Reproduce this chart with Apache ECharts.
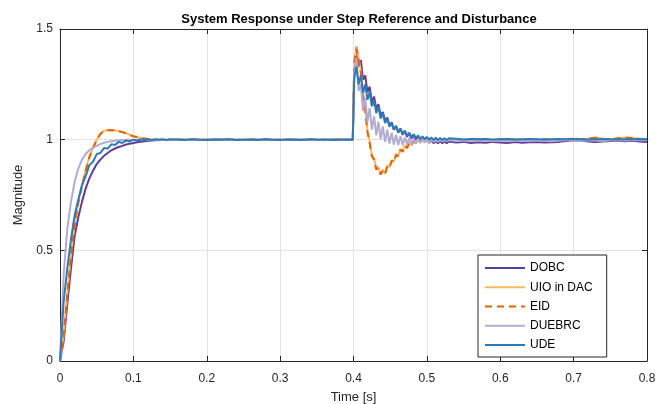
<!DOCTYPE html>
<html>
<head>
<meta charset="utf-8">
<script src="https://cdn.jsdelivr.net/npm/echarts@6/dist/echarts.min.js"></script>
<style>
html,body{margin:0;padding:0;background:#fff;}
#chart{width:662px;height:404px;}
</style>
</head>
<body>
<div id="chart"></div>
<script>
// ---- time samples [s] ----
var tA = [0,0.005,0.01,0.015,0.02,0.025,0.03,0.035,0.04,0.045,0.05,0.055,0.06,0.065,0.07,0.075,0.08,0.085,0.09,0.095,0.1,0.105,0.11,0.115,0.12,0.125,0.13,0.135,0.14,0.145,0.15];
var tB = [0.16,0.17,0.18,0.19,0.2,0.21,0.22,0.23,0.24,0.25,0.26,0.27,0.28,0.29,0.3,0.31,0.32,0.33,0.34,0.35,0.36,0.37,0.38,0.39];
var tC = [0.399,0.401,0.404,0.407,0.41,0.413,0.416,0.419,0.422,0.425,0.428,0.431,0.434,0.437,0.44,0.443,0.446,0.449,0.452,0.455,0.458,0.461,0.464,0.467,0.47,0.473,0.476,0.479,0.482,0.485,0.488,0.491,0.494,0.497,0.5,0.503,0.506,0.509,0.512,0.515,0.518,0.521,0.524,0.527,0.53];
var tD = [0.54,0.55,0.56,0.57,0.58,0.59,0.6,0.61,0.62,0.63,0.64,0.65,0.66,0.67,0.68,0.69,0.7,0.71,0.72,0.73,0.74,0.75,0.76,0.77,0.78,0.79,0.8];

// ---- series values (Magnitude) ----
var dobc = [
 0,0.09,0.26,0.42,0.565,0.65,0.72,0.78,0.825,0.86,0.89,0.91,0.927,0.94,0.952,0.96,0.967,0.972,0.978,0.982,0.985,0.988,0.991,0.993,0.995,0.996,0.997,0.998,0.999,0.999,1.0,
 1.0,0.999,1.001,1.0,0.999,1.0,1.001,1.0,0.999,1.0,1.0,0.999,1.001,1.0,0.999,1.0,1.001,0.999,1.0,1.0,0.999,1.001,1.0,1.0,
 1.0,1.30,1.42,1.33,1.36,1.27,1.29,1.215,1.24,1.17,1.195,1.14,1.16,1.11,1.125,1.085,1.10,1.063,1.078,1.045,1.062,1.032,1.05,1.022,1.04,1.013,1.03,1.005,1.022,0.998,1.015,0.993,1.008,0.989,1.003,0.986,0.998,0.984,0.995,0.983,0.994,0.984,0.993,0.984,0.992,
 0.987,0.99,0.985,0.988,0.986,0.99,0.987,0.985,0.989,0.986,0.988,0.99,0.987,0.988,0.99,0.994,0.997,0.996,0.992,0.99,0.992,0.994,0.996,0.993,0.995,0.992,0.99
];
var uio = [
 0,0.12,0.31,0.48,0.62,0.72,0.795,0.865,0.925,0.965,1.0,1.028,1.04,1.043,1.044,1.041,1.039,1.035,1.03,1.022,1.016,1.012,1.008,1.005,1.003,1.002,1.0,1.0,0.999,1.0,1.0,
 1.001,1.0,0.999,1.001,1.0,1.0,0.999,1.001,1.0,0.999,1.001,1.0,1.0,0.999,1.001,1.0,0.999,1.0,1.001,1.0,0.999,1.0,1.001,1.0,
 1.0,1.33,1.42,1.37,1.31,1.21,1.14,1.04,0.99,0.928,0.915,0.868,0.877,0.843,0.864,0.846,0.884,0.875,0.908,0.90,0.935,0.927,0.958,0.947,0.975,0.963,0.987,0.975,0.996,0.986,1.003,0.992,1.006,0.995,1.005,0.996,1.004,0.997,1.004,0.997,1.003,0.998,1.003,0.998,1.002,
 1.003,0.998,1.002,1.004,1.0,0.998,1.002,1.0,1.003,0.999,1.001,1.0,1.002,0.999,1.0,1.002,1.003,1.001,1.004,1.01,1.004,1.0,1.005,1.01,1.008,1.003,1.002
];
var eid = [
 0,0.115,0.305,0.475,0.615,0.715,0.79,0.86,0.92,0.962,0.998,1.026,1.039,1.043,1.043,1.042,1.038,1.034,1.029,1.021,1.015,1.011,1.007,1.005,1.003,1.001,1.0,1.0,1.0,0.999,1.0,
 1.001,1.0,0.999,1.001,1.0,1.0,0.999,1.001,1.0,0.999,1.001,1.0,1.0,0.999,1.001,1.0,0.999,1.0,1.001,1.0,0.999,1.0,1.001,1.0,
 1.0,1.35,1.41,1.36,1.30,1.20,1.13,1.035,0.985,0.925,0.91,0.865,0.873,0.842,0.86,0.845,0.88,0.873,0.905,0.898,0.932,0.925,0.955,0.945,0.972,0.962,0.985,0.974,0.994,0.985,1.002,0.991,1.005,0.994,1.004,0.996,1.004,0.997,1.003,0.997,1.003,0.998,1.002,0.998,1.002,
 1.002,0.999,1.003,1.003,1.001,0.998,1.002,1.001,1.002,1.0,1.0,1.001,1.002,1.0,0.999,1.002,1.004,1.0,1.005,1.009,1.003,1.001,1.006,1.009,1.007,1.004,1.001
];
var duebrc = [
 0,0.39,0.60,0.72,0.81,0.87,0.91,0.935,0.952,0.963,0.972,0.98,0.986,0.99,0.993,0.995,0.997,0.998,0.999,1.0,0.999,1.0,1.001,0.999,1.0,1.0,0.999,1.001,1.0,0.999,1.0,
 0.999,1.001,1.0,0.998,1.0,1.002,0.999,1.0,1.001,0.999,1.0,1.002,0.999,1.0,1.001,0.998,1.0,1.001,1.0,0.999,1.001,1.0,0.999,1.0,
 1.0,1.30,1.37,1.22,1.25,1.13,1.19,1.08,1.143,1.045,1.105,1.02,1.08,1.002,1.06,0.99,1.045,0.982,1.032,0.978,1.022,0.976,1.016,0.976,1.01,0.978,1.007,0.98,1.004,0.982,1.002,0.985,1.001,0.987,1.0,0.988,1.0,0.99,0.999,0.991,0.999,0.992,0.998,0.993,0.998,
 0.994,0.996,0.993,0.995,0.997,0.994,0.996,0.993,0.995,0.997,0.994,0.996,0.995,0.993,0.996,0.998,0.997,0.995,0.997,0.996,0.994,0.997,0.998,0.996,0.997,0.998,0.997
];
var ude = [
 0,0.27,0.42,0.55,0.66,0.73,0.795,0.835,0.885,0.9,0.935,0.94,0.962,0.96,0.979,0.976,0.99,0.985,0.996,0.992,1.0,0.995,1.002,0.997,1.002,0.998,1.002,0.999,1.002,0.999,1.001,
 1.001,0.999,1.002,1.0,0.999,1.001,1.0,1.002,0.999,1.0,1.001,0.999,1.002,1.0,0.999,1.001,1.0,0.999,1.002,1.0,1.001,0.999,1.0,1.001,
 1.0,1.28,1.33,1.25,1.29,1.21,1.25,1.18,1.215,1.15,1.18,1.12,1.15,1.095,1.12,1.075,1.097,1.058,1.077,1.045,1.062,1.034,1.05,1.025,1.04,1.018,1.031,1.012,1.024,1.008,1.019,1.004,1.015,1.002,1.012,1.0,1.01,0.998,1.009,0.998,1.008,0.998,1.007,0.998,1.006,
 1.004,1.001,1.003,1.002,1.003,1.001,1.002,1.003,1.001,1.002,1.003,1.002,1.001,1.002,1.003,1.002,1.003,1.002,1.001,1.002,1.003,1.002,1.001,1.002,1.002,1.003,1.002
];

var seriesNames = ['DOBC','UIO in DAC','EID','DUEBRC','UDE'];
var xTicks = [0,0.1,0.2,0.3,0.4,0.5,0.6,0.7,0.8];
var yTicks = [0,0.5,1,1.5];

var time = tA.concat(tB, tC, tD);
function pairs(v){ var out=[]; for(var i=0;i<time.length && i<v.length;i++){ out.push([time[i], v[i]]); } return out; }

var FONT = "'Liberation Sans', Helvetica, Arial, sans-serif";
var axisCol = '#262626';

function mkSeries(name, vals, color, type){
  return {
    name: name, type: 'line', data: pairs(vals),
    symbol: 'none', showSymbol: false, smooth: false,
    lineStyle: {color: color, width: 2, type: type || 'solid'},
    itemStyle: {color: color},
    xAxisIndex: 0, yAxisIndex: 0, animation: false
  };
}

var chart = echarts.init(document.getElementById('chart'), null, {renderer: 'canvas'});
chart.setOption({
  animation: false,
  backgroundColor: '#fff',
  title: {
    text: 'System Response under Step Reference and Disturbance',
    left: 354, top: 8, textAlign: 'center',
    textStyle: {fontFamily: FONT, fontSize: 13, fontWeight: 'bold', color: '#000'}
  },
  grid: {left: 60, right: 15, top: 29, bottom: 43, containLabel: false, outerBoundsMode: 'none'},
  legend: {
    orient: 'vertical', left: 478, top: 255,
    padding: [7, 14, 6, 6], itemGap: 7.25, itemWidth: 40, itemHeight: 14,
    backgroundColor: '#fff', borderColor: axisCol, borderWidth: 1,
    itemStyle: {opacity: 0},
    textStyle: {fontFamily: FONT, fontSize: 12, color: '#000'},
    data: seriesNames
  },
  xAxis: [{
    type: 'value', min: 0, max: 0.8, interval: 0.1,
    name: 'Time [s]', nameLocation: 'middle', nameGap: 30,
    nameTextStyle: {fontFamily: FONT, fontSize: 13, color: axisCol},
    axisLine: {show: true, onZero: false, lineStyle: {color: axisCol, width: 1}},
    axisTick: {show: true, inside: true, length: 5, lineStyle: {color: axisCol}},
    axisLabel: {fontFamily: FONT, fontSize: 12, color: axisCol, margin: 12,
      formatter: function(v){ return String(+v.toFixed(1)); }},
    splitLine: {show: true, lineStyle: {color: '#e3e3e3', width: 1}}
  },{
    type: 'value', min: 0, max: 0.8, interval: 0.1, position: 'top',
    axisLine: {show: true, onZero: false, lineStyle: {color: axisCol, width: 1}},
    axisTick: {show: true, inside: true, length: 5, lineStyle: {color: axisCol}},
    axisLabel: {show: false}, splitLine: {show: false}
  }],
  yAxis: [{
    type: 'value', min: 0, max: 1.5, interval: 0.5,
    name: 'Magnitude', nameLocation: 'middle', nameGap: 27,
    nameTextStyle: {fontFamily: FONT, fontSize: 13, color: axisCol},
    axisLine: {show: true, onZero: false, lineStyle: {color: axisCol, width: 1}},
    axisTick: {show: true, inside: true, length: 5, lineStyle: {color: axisCol}},
    axisLabel: {fontFamily: FONT, fontSize: 12, color: axisCol, margin: 7,
      formatter: function(v){ return String(+v.toFixed(1)); }},
    splitLine: {show: true, lineStyle: {color: '#e3e3e3', width: 1}}
  },{
    type: 'value', min: 0, max: 1.5, interval: 0.5, position: 'right',
    axisLine: {show: true, onZero: false, lineStyle: {color: axisCol, width: 1}},
    axisTick: {show: true, inside: true, length: 5, lineStyle: {color: axisCol}},
    axisLabel: {show: false}, splitLine: {show: false}
  }],
  series: [
    mkSeries(seriesNames[0], dobc, '#5e3c99'),
    mkSeries(seriesNames[1], uio, '#fdb863'),
    mkSeries(seriesNames[2], eid, '#e66101', [7, 5]),
    mkSeries(seriesNames[3], duebrc, '#b2abd2'),
    mkSeries(seriesNames[4], ude, '#2c7bb6')
  ]
});
</script>
</body>
</html>
